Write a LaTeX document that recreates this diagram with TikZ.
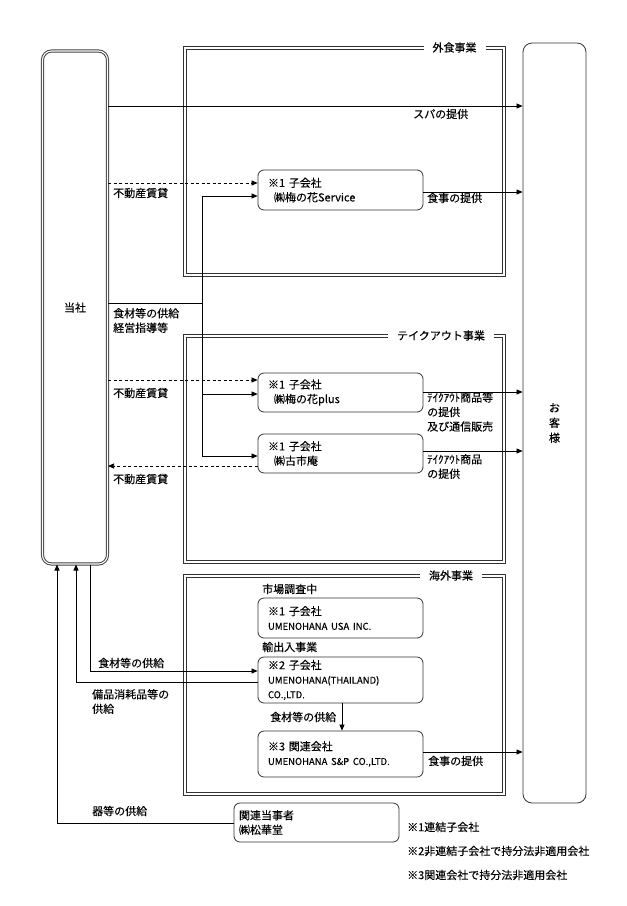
\documentclass[tikz,border=0pt]{standalone}
\usepackage{fontspec}
\setmainfont{Noto Sans CJK JP}[FakeBold=0.25]
\usetikzlibrary{arrows.meta,calc}
\begin{document}
\begin{tikzpicture}[x=1pt,y=-1pt,
  every node/.style={font=\fontsize{11}{14.5}\selectfont, inner sep=0pt},
  bizframe/.style={draw=black!80, double=white, double distance=1.1pt, line width=1.1pt},
  ftitle/.style={fill=white, inner xsep=9pt, inner ysep=3pt},
  tbox/.style={draw=black!75, double=white, double distance=1.1pt, line width=1pt, rounded corners=9pt, minimum width=65pt, minimum height=513pt},
  kbox/.style={draw=black!80, line width=0.8pt, rounded corners=9pt, minimum width=63pt, minimum height=760pt},
  sub/.style={draw=black!80, line width=0.8pt, rounded corners=6pt, minimum width=165pt, text width=145pt, align=left, inner xsep=10pt, inner ysep=0pt},
  lbl/.style={anchor=west, align=left},
  arr/.style={line width=0.75pt, -{Triangle[length=6pt,width=5pt]}},
  ln/.style={line width=0.75pt},
  dsh/.style={dash pattern=on 3pt off 2.5pt}
]
\useasboundingbox (0,0) rectangle (627,906);

% frames
\coordinate (fG1) at (185,48);  \coordinate (fG2) at (504,275);
\coordinate (fT1) at (185,336); \coordinate (fT2) at (504,562);
\coordinate (fK1) at (185,576); \coordinate (fK2) at (504,794);
\draw[bizframe] (fG1) rectangle (fG2);
\draw[bizframe] (fT1) rectangle (fT2);
\draw[bizframe] (fK1) rectangle (fK2);
\node[ftitle] (tGaishoku) at (454.5,47.5) {外食事業};
\node[ftitle] (tTake) at (441,335.5) {テイクアウト事業};
\node[ftitle] (tKaigai) at (451,575.5) {海外事業};

% main boxes
\node[tbox] (tousha) at (75,307.5) {当社};
\node[kbox, align=center, font=\fontsize{11}{15}\selectfont] (kyaku) at (554.5,423) {お\\客\\様};

% subsidiaries
\node[sub, minimum height=40pt] (svc) at (340.5,190) {※1 子会社\\\hspace{6pt}㈱梅の花Service};
\node[sub, minimum height=39pt] (plus) at (340.5,392.5) {※1 子会社\\\hspace{6pt}㈱梅の花plus};
\node[sub, minimum height=39pt] (furu) at (340.5,453.5) {※1 子会社\\\hspace{6pt}㈱古市庵};
\node[sub, minimum height=40pt] (usa) at (340.5,618) {※1 子会社\\{\fontsize{9.5}{14.5}\selectfont UMENOHANA USA INC.}};
\node[sub, minimum height=46pt] (thai) at (340.5,680) {※2 子会社\\{\fontsize{9.5}{14}\selectfont UMENOHANA(THAILAND)}\\{\fontsize{9.5}{14}\selectfont CO.,LTD.}};
\node[sub, minimum height=46pt] (sp) at (340.5,754) {※3 関連会社\\{\fontsize{9.5}{14}\selectfont UMENOHANA S\&P CO.,LTD.}};
\node[sub, minimum height=39pt, text width=155pt, inner xsep=5pt] (kanren) at (316.5,822.5) {関連当事者\\㈱松華堂};

% flows from 当社 and to お客様
\coordinate (ySpa) at (0,106);
\draw[arr] (tousha.east |- ySpa) -- (kyaku.west |- ySpa);
\coordinate (yR1) at (0,183);
\draw[arr,dsh] (tousha.east |- yR1) -- (svc.west |- yR1);
\coordinate (ySvcOut) at (0,192);
\draw[arr] (svc.east |- ySvcOut) -- (kyaku.west |- ySvcOut);
\coordinate (jTop) at (202,196);
\coordinate (jMid) at (202,303);
\coordinate (jPlus) at (202,394);
\coordinate (jFur) at (202,456);
\draw[ln] (tousha.east |- jMid) -- (jMid);
\draw[ln] (jTop) -- (jFur);
\draw[arr] (jTop) -- (svc.west |- jTop);
\draw[arr] (jPlus) -- (plus.west |- jPlus);
\draw[arr] (jFur) -- (furu.west |- jFur);
\coordinate (yR2) at (0,380);
\draw[arr,dsh] (tousha.east |- yR2) -- (plus.west |- yR2);
\coordinate (yPlusOut) at (0,392);
\draw[arr] (plus.east |- yPlusOut) -- (kyaku.west |- yPlusOut);
\coordinate (yR3) at (0,466);
\draw[arr,dsh] (furu.west |- yR3) -- (tousha.east |- yR3);
\coordinate (yFurOut) at (0,451);
\draw[arr] (furu.east |- yFurOut) -- (kyaku.west |- yFurOut);

% overseas flows
\coordinate (b90) at (90,671);
\draw[arr] (tousha.south -| b90) -- (b90) -- (thai.west |- b90);
\coordinate (b76) at (76,682);
\draw[arr] (thai.west |- b76) -- (b76) -- (tousha.south -| b76);
\coordinate (b57) at (57,823);
\draw[arr] (kanren.west |- b57) -- (b57) -- (tousha.south -| b57);
\coordinate (xTS) at (342,0);
\draw[arr] (thai.south -| xTS) -- (sp.north -| xTS);
\coordinate (ySPOut) at (0,752);
\draw[arr] (sp.east |- ySPOut) -- (kyaku.west |- ySPOut);

% labels
\node[lbl] (lSpa) at (413,114) {スパの提供};
\node[lbl] (lR1) at (113,193) {不動産賃貸};
\node[lbl] (lSvcOut) at (427,198) {食事の提供};
\node[lbl] (lSup) at (113,320.5) {食材等の供給\\経営指導等};
\node[lbl] (lR2) at (113,393) {不動産賃貸};
\node[lbl] (lPlusOut) at (427,412) {ﾃｲｸｱｳﾄ商品等\\の提供\\及び通信販売};
\node[lbl] (lR3) at (113,479) {不動産賃貸};
\node[lbl] (lFurOut) at (427,466.5) {ﾃｲｸｱｳﾄ商品\\の提供};
\node[lbl] (lMkt) at (262,589) {市場調査中};
\node[lbl] (lExp) at (262,647) {輸出入事業};
\node[lbl] (lSup2) at (98,663) {食材等の供給};
\node[lbl] (lBihin) at (92,701.5) {備品消耗品等の\\供給};
\node[lbl] (lSup3) at (270,717) {食材等の供給};
\node[lbl] (lSPOut) at (428,761) {食事の提供};
\node[lbl] (lUtsuwa) at (92,811) {器等の供給};
\node[lbl] (n1) at (407,827) {※1連結子会社};
\node[lbl] (n2) at (407,851) {※2非連結子会社で持分法非適用会社};
\node[lbl] (n3) at (407,875) {※3関連会社で持分法非適用会社};
\end{tikzpicture}
\end{document}
